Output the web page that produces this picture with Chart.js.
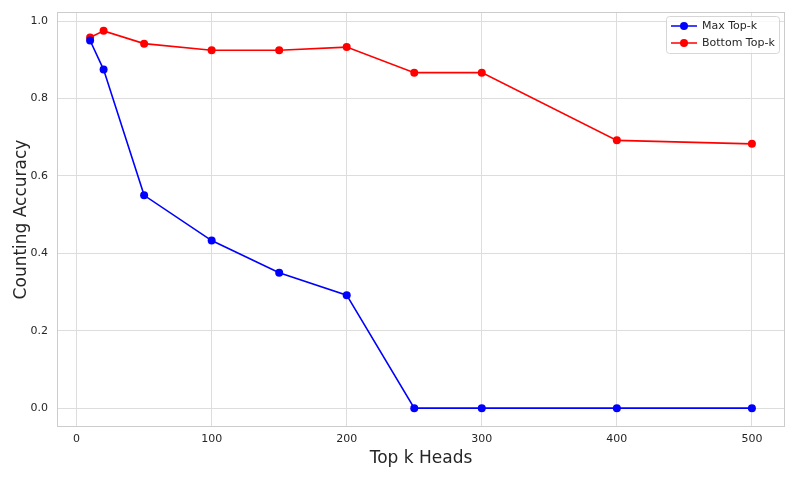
<!DOCTYPE html>
<html>
<head>
<meta charset="utf-8">
<script src="https://cdn.jsdelivr.net/npm/chart.js@4.4.0/dist/chart.umd.min.js"></script>
<style>
html,body{margin:0;padding:0;background:#fff;}
#wrap{width:797px;height:478px;position:relative;}
</style>
</head>
<body>
<div id="wrap"><canvas id="c" width="797" height="478"></canvas></div>
<script>
const topK = [10, 20, 50, 100, 150, 200, 250, 300, 400, 500];
const maxTopK = [0.950, 0.875, 0.550, 0.433, 0.350, 0.292, 0.0, 0.0, 0.0, 0.0];
const bottomTopK = [0.958, 0.975, 0.942, 0.925, 0.925, 0.933, 0.867, 0.867, 0.692, 0.683];
const xTicks = [0, 100, 200, 300, 400, 500];
const yTicks = [0.0, 0.2, 0.4, 0.6, 0.8, 1.0];
const seriesNames = ['Max Top-k', 'Bottom Top-k'];
const seriesColors = ['#0000ff', '#ff0000'];

const FONT = "'DejaVu Sans', sans-serif";
const TXT = '#262626';

const legendPlugin = {
  id: 'mplLegend',
  afterDraw(chart) {
    const ctx = chart.ctx;
    const area = chart.chartArea;
    const bx = area.right - 119, by = area.top + 4, bw = 113, bh = 37;
    ctx.save();
    ctx.fillStyle = 'rgba(255,255,255,0.8)';
    ctx.strokeStyle = '#d6d6d6';
    ctx.lineWidth = 1;
    ctx.beginPath();
    if (ctx.roundRect) ctx.roundRect(bx + 0.5, by + 0.5, bw, bh, 3); else ctx.rect(bx + 0.5, by + 0.5, bw, bh);
    ctx.fill(); ctx.stroke();
    chart.data.datasets.forEach((ds, i) => {
      const y = by + 10 + i * 17;
      ctx.strokeStyle = ds.borderColor;
      ctx.lineWidth = 1.5;
      ctx.beginPath(); ctx.moveTo(bx + 5, y); ctx.lineTo(bx + 31, y); ctx.stroke();
      ctx.fillStyle = ds.borderColor;
      ctx.beginPath(); ctx.arc(bx + 18, y, 4, 0, Math.PI * 2); ctx.fill();
      ctx.fillStyle = TXT;
      ctx.font = '11px ' + FONT;
      ctx.textBaseline = 'middle';
      ctx.textAlign = 'left';
      ctx.fillText(ds.label, bx + 36, y);
    });
    ctx.restore();
  }
};

const frameGrid = {
  id: 'frame',
  beforeDatasetsDraw(chart) {
    const ctx = chart.ctx, a = chart.chartArea;
    ctx.save();
    ctx.strokeStyle = '#cccccc';
    ctx.lineWidth = 1;
    ctx.strokeRect(a.left + 0.5, a.top + 0.5, a.right - a.left - 1, a.bottom - a.top - 1);
    ctx.restore();
  }
};

new Chart(document.getElementById('c'), {
  type: 'line',
  data: {
    datasets: [
      { label: seriesNames[0], data: topK.map((x, i) => ({x, y: maxTopK[i]})), borderColor: seriesColors[0], backgroundColor: seriesColors[0], borderWidth: 1.6, pointRadius: 4, pointHoverRadius: 4, pointBorderWidth: 0, tension: 0 },
      { label: seriesNames[1], data: topK.map((x, i) => ({x, y: bottomTopK[i]})), borderColor: seriesColors[1], backgroundColor: seriesColors[1], borderWidth: 1.6, pointRadius: 4, pointHoverRadius: 4, pointBorderWidth: 0, tension: 0 }
    ]
  },
  options: {
    responsive: false,
    animation: false,
    layout: { padding: { left: 11, right: 12, top: 12, bottom: 9 } },
    plugins: { legend: { display: false }, tooltip: { enabled: false } },
    scales: {
      x: {
        type: 'linear', min: -14.5, max: 524.5,
        afterBuildTicks(s) { s.ticks = xTicks.map(v => ({value: v})); },
        afterFit(s) { s.height = 42; s.paddingLeft = 0; s.paddingRight = 0; },
        grid: { color: '#dddddd', lineWidth: 1, drawTicks: false },
        border: { display: false },
        ticks: { color: TXT, font: { family: FONT, size: 11 }, padding: 6, maxRotation: 0, callback: v => String(v) },
        title: { display: true, text: 'Top k Heads', color: TXT, font: { family: FONT, size: 17 }, padding: { top: 2, bottom: 0 } }
      },
      y: {
        min: -0.04875, max: 1.02375,
        afterBuildTicks(s) { s.ticks = yTicks.map(v => ({value: v})); },
        afterFit(s) { s.width = 46; s.paddingTop = 0; s.paddingBottom = 0; },
        grid: { color: '#dddddd', lineWidth: 1, drawTicks: false },
        border: { display: false },
        ticks: { color: TXT, font: { family: FONT, size: 11 }, padding: 9, callback: v => v.toFixed(1) },
        title: { display: true, text: 'Counting Accuracy', color: TXT, font: { family: FONT, size: 17 }, padding: { top: 0, bottom: 4 } }
      }
    }
  },
  plugins: [frameGrid, legendPlugin]
});
</script>
</body>
</html>
